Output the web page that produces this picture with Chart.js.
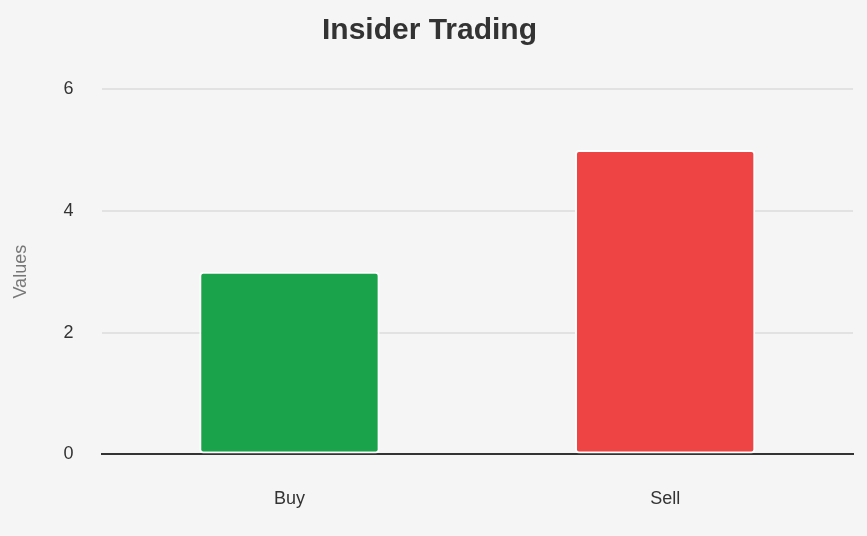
<!DOCTYPE html>
<html>
<head>
<meta charset="utf-8">
<script src="https://cdn.jsdelivr.net/npm/chart.js@4"></script>
<style>
  html, body { margin: 0; padding: 0; background: #f5f5f5; }
  #wrap { width: 867px; height: 536px; }
</style>
</head>
<body>
<div id="wrap"><canvas id="chart"></canvas></div>
<script>
// data
var categories = ['Buy', 'Sell'];
var values = [3, 5];
var barColors = ['#1aa34a', '#ef4444'];
var yTicks = [0, 2, 4, 6];

Chart.defaults.font.family = '"Liberation Sans", Arial, sans-serif';

new Chart(document.getElementById('chart'), {
  type: 'bar',
  data: {
    labels: categories,
    datasets: [{
      data: values,
      backgroundColor: barColors,
      borderColor: '#ffffff',
      borderWidth: 2,
      borderRadius: 4,
      borderSkipped: false,
      barPercentage: 0.8,
      categoryPercentage: 0.6
    }]
  },
  options: {
    responsive: true,
    maintainAspectRatio: false,
    animation: false,
    layout: { padding: { left: 6, right: 14, bottom: 0 } },
    plugins: {
      legend: { display: false },
      title: {
        display: true,
        text: 'Insider Trading',
        color: '#333333',
        font: { size: 30, weight: 'bold' },
        padding: { top: 13, bottom: 40 }
      },
      tooltip: { enabled: false }
    },
    scales: {
      x: {
        grid: { display: false },
        border: { color: '#333333', width: 2 },
        ticks: { color: '#333333', font: { size: 18 }, padding: 26 }
      },
      y: {
        min: 0,
        max: 6,
        afterBuildTicks: function (axis) {
          axis.ticks = yTicks.map(function (v) { return { value: v }; });
        },
        grid: { color: '#e2e2e2', lineWidth: 2, drawTicks: false },
        border: { display: false },
        title: { display: true, text: 'Values', color: '#777777', font: { size: 18 } },
        ticks: { color: '#333333', font: { size: 18 }, padding: 28 }
      }
    }
  }
});
</script>
</body>
</html>
